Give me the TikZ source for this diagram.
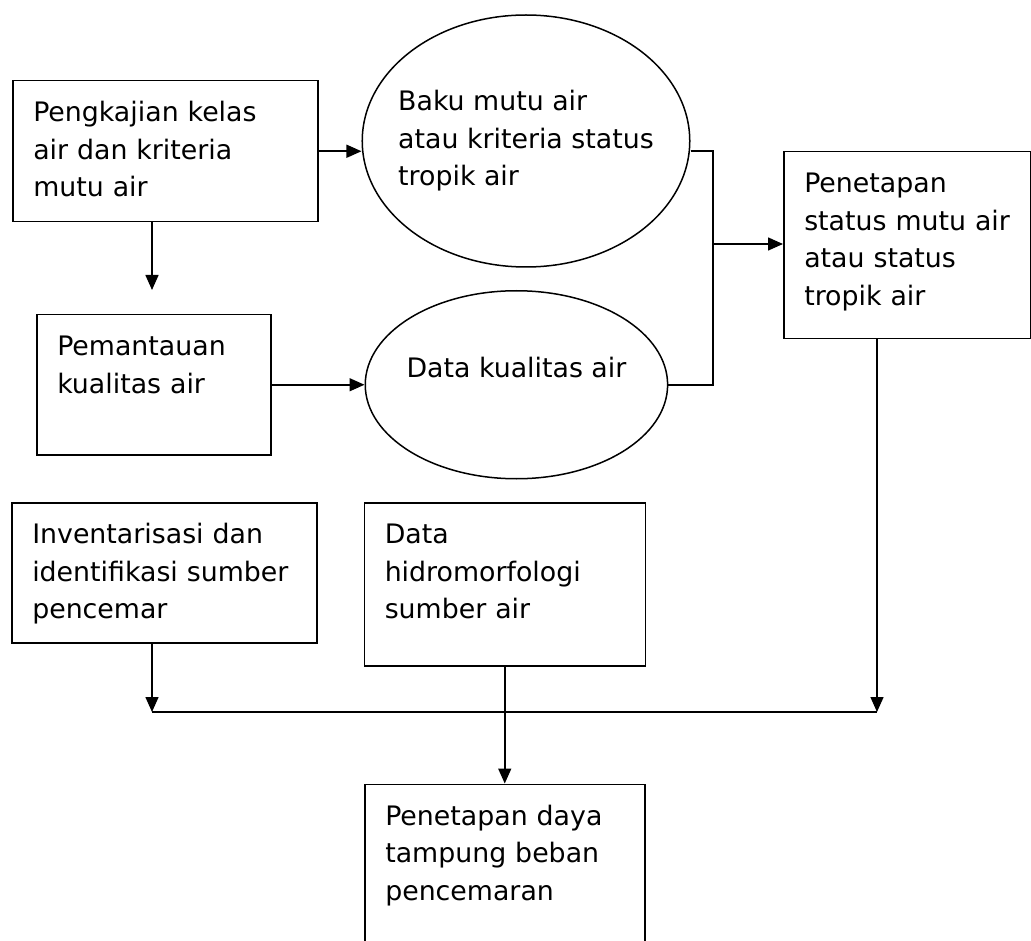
\documentclass[tikz,border=0pt]{standalone}
\usepackage{fontspec}
\setmainfont{DejaVu Sans}
\usetikzlibrary{shapes.geometric, arrows.meta, positioning}
\tikzset{
  process/.style = {
    rectangle,
    draw=black,
    line width=1.5pt,
    anchor=north west,
    align=left,
    inner xsep=20.5pt,
    inner ysep=0pt,
    text height=41pt,
    font=\fontsize{26.8pt}{37.5pt}\selectfont
  },
  dataoval/.style = {
    ellipse,
    draw=black,
    line width=1.5pt,
    inner sep=0pt,
    align=left,
    font=\fontsize{26.8pt}{37.5pt}\selectfont
  },
  arrow/.style = {
    line width=1.5pt,
    -{Triangle[length=15pt,width=13pt]},
    draw=black
  },
  link/.style = {
    line width=1.5pt,
    draw=black
  }
}
\begin{document}
\begin{tikzpicture}[x=1pt, y=-1pt]

\path [use as bounding box, fill=white] (0,0) rectangle (1031,941);

% ===== Baris 1 =====
\node (a) [process, text width=264pt, text depth=100pt] at (12,80) {Pengkajian kelas\\air dan kriteria\\mutu air};
\node (b) [dataoval, inner xsep=-12pt, minimum height=252pt] at (526,141) {Baku mutu air\\atau kriteria status\\tropik air};
\node (c) [process, text width=206pt, text depth=146pt] at (783,151) {Penetapan\\status mutu air\\atau status\\tropik air};

% ===== Baris 2 =====
\node (d) [process, text width=193pt, text depth=99pt] at (36,314) {Pemantauan\\kualitas air};
\node (e) [dataoval, inner xsep=-3pt, minimum height=188pt, text height=20pt, text depth=34pt, right=93pt of d] {Data kualitas air};

% ===== Baris 3 =====
\node (f) [process, text width=264pt, text depth=99pt] at (11,502) {Inventarisasi dan\\identifikasi sumber\\pencemar};
\node (g) [process, text width=240pt, text depth=122pt, right=46pt of f.north east, anchor=north west] {Data\\hidromorfologi\\sumber air};

% ===== Baris 4 (hasil akhir) =====
\node (h) [process, text width=239pt, text depth=140pt, below=117pt of g] {Penetapan daya\\tampung beban\\pencemaran};

% ===== Titik bantu =====
\coordinate (a_bawah) at (152,290);
\coordinate (simpul) at (713,244);
\coordinate (kiri) at (152,712);
\coordinate (kanan) at (877,712);

% ===== Panah =====
\draw [arrow] (a.east) -- (a.east -| b.west);
\draw [arrow] (a.south -| a_bawah) -- (a_bawah);   % turun, ujung bebas
\draw [arrow] (d) -- (e);

\draw [link] (a.east -| b.east) -| (simpul) |- (e.east);   % gabung dua data
\draw [arrow] (simpul) -- (simpul -| c.west);

\draw [arrow] (f.south -| kiri) -- (kiri);
\draw [arrow] (c.south -| kanan) -- (kanan);
\draw [link] (kiri) -- (kanan);

\draw [arrow] (g) -- (h);   % lewat garis bawah

\end{tikzpicture}
\end{document}
